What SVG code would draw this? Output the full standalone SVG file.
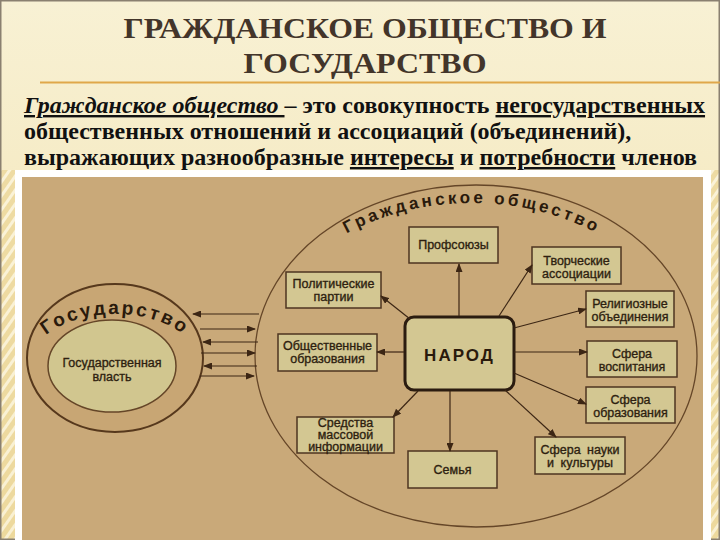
<svg xmlns="http://www.w3.org/2000/svg" width="720" height="540" viewBox="0 0 720 540">
  <defs>
    <linearGradient id="bg" x1="0" y1="0" x2="0" y2="1">
      <stop offset="0" stop-color="#f8f1d4"/>
      <stop offset="1" stop-color="#f1e0aa"/>
    </linearGradient>
    <pattern id="stripes" width="8" height="8" patternUnits="userSpaceOnUse" patternTransform="rotate(35)">
      <rect width="8" height="8" fill="#ecd79a"/>
      <rect width="3" height="8" fill="#fbf4dc"/>
    </pattern>
    <marker id="ah" markerUnits="userSpaceOnUse" markerWidth="9" markerHeight="7" refX="8" refY="3.5" orient="auto">
      <path d="M0,0 L9,3.5 L0,7 z" fill="#3c2614"/>
    </marker>
    <path id="gosArc" d="M 30,365 A 85,51 0 0 1 200,365"/>
    <path id="gragArc" d="M 262,358 A 210,155 0 0 1 682,358"/>
  </defs>
  <style>
    .title { font-family: "Liberation Serif", "Times New Roman", serif; font-weight: bold; font-size: 30px; fill: #43352a; }
    .body { font-family: "Liberation Serif", "Times New Roman", serif; font-weight: bold; font-size: 24px; fill: #111; }
    .u { text-decoration: underline; }
    .box { fill: #d3c792; stroke: #4e3520; stroke-width: 1.5; }
    .lbl { font-family: "Liberation Sans", Arial, sans-serif; font-size: 12.5px; fill: #2e1f10; stroke: #2e1f10; stroke-width: 0.35; text-anchor: middle; }
    .con { stroke: #3c2614; stroke-width: 1.2; fill: none; marker-end: url(#ah); }
    .arc { font-family: "Liberation Sans", Arial, sans-serif; font-weight: bold; fill: #2a1a0c; }
  </style>

  <!-- slide background -->
  <rect x="0" y="0" width="720" height="540" fill="url(#bg)"/>
  <rect x="0" y="170" width="16" height="370" fill="url(#stripes)" opacity="0.8"/>
  <rect x="709" y="170" width="11" height="370" fill="url(#stripes)" opacity="0.8"/>
  <rect x="0.75" y="0.75" width="718.5" height="538.5" fill="none" stroke="#8a8070" stroke-width="1.5"/>

  <!-- heading -->
  <text class="title" x="365" y="38" text-anchor="middle" textLength="483" lengthAdjust="spacingAndGlyphs">ГРАЖДАНСКОЕ ОБЩЕСТВО И</text>
  <text class="title" x="365" y="73" text-anchor="middle" textLength="243" lengthAdjust="spacingAndGlyphs">ГОСУДАРСТВО</text>
  <line x1="40" y1="82.5" x2="720" y2="82.5" stroke="#e0a84a" stroke-width="2"/>

  <!-- definition -->
  <text class="body" x="24" y="113"><tspan class="u" font-style="italic">Гражданское общество </tspan>– это совокупность <tspan class="u">негосударственных</tspan></text>
  <text class="body" x="24" y="139">общественных отношений и ассоциаций (объединений),</text>
  <text class="body" x="24" y="165">выражающих разнообразные <tspan class="u">интересы</tspan> и <tspan class="u">потребности</tspan> членов</text>

  <!-- picture frame -->
  <rect x="15" y="170" width="696" height="372" fill="#ffffff"/>
  <rect x="22" y="177" width="681" height="365" fill="#c9a979"/>

  <!-- Гражданское общество ellipse -->
  <g id="civil-society">
    <ellipse cx="476" cy="356" rx="221" ry="171" fill="none" stroke="#654628" stroke-width="1.3"/>
    <text class="arc" font-size="17" letter-spacing="3.2"><textPath href="#gragArc" startOffset="50%" text-anchor="middle">Гражданское общество</textPath></text>
  </g>

  <!-- Государство -->
  <g id="state">
    <ellipse cx="115" cy="358" rx="88" ry="74" fill="#c8a674" stroke="#56381c" stroke-width="2"/>
    <text class="arc" font-size="19" letter-spacing="2.5"><textPath href="#gosArc" startOffset="50%" text-anchor="middle">Государство</textPath></text>
  </g>
  <g id="state-power">
    <ellipse cx="112" cy="366" rx="64" ry="46" fill="#d1c68f" stroke="#654628" stroke-width="1.5"/>
    <text class="lbl" x="112" y="367" font-size="13.5">Государственная</text>
    <text class="lbl" x="112" y="381" font-size="13.5">власть</text>
  </g>

  <!-- nodes -->
  <g id="narod">
    <rect x="405" y="317" width="109" height="73" rx="9" fill="#d3c792" stroke="#2b1c10" stroke-width="3"/>
    <text x="459.5" y="361" text-anchor="middle" font-family="Liberation Sans, Arial, sans-serif" font-weight="bold" font-size="17" letter-spacing="2" fill="#2a1a0c">НАРОД</text>
  </g>
  <g id="profsoyuzy">
    <rect class="box" x="409" y="227" width="89" height="36"/>
    <text class="lbl" x="453.5" y="249">Профсоюзы</text>
  </g>
  <g id="tvorcheskie">
    <rect class="box" x="532" y="247" width="89" height="37"/>
    <text class="lbl" x="576.5" y="265">Творческие</text>
    <text class="lbl" x="576.5" y="278">ассоциации</text>
  </g>
  <g id="religioznye">
    <rect class="box" x="586" y="291" width="88" height="36"/>
    <text class="lbl" x="630" y="308">Религиозные</text>
    <text class="lbl" x="630" y="321">объединения</text>
  </g>
  <g id="vospitanie">
    <rect class="box" x="587" y="341" width="90" height="36"/>
    <text class="lbl" x="632" y="358">Сфера</text>
    <text class="lbl" x="632" y="371">воспитания</text>
  </g>
  <g id="obrazovanie">
    <rect class="box" x="586" y="387" width="89" height="36"/>
    <text class="lbl" x="630.5" y="404">Сфера</text>
    <text class="lbl" x="630.5" y="417">образования</text>
  </g>
  <g id="nauka">
    <rect class="box" x="535" y="437" width="90" height="37"/>
    <text class="lbl" x="580" y="454" word-spacing="3">Сфера науки</text>
    <text class="lbl" x="580" y="467" word-spacing="3">и культуры</text>
  </g>
  <g id="semya">
    <rect class="box" x="408" y="451" width="89" height="37"/>
    <text class="lbl" x="452.5" y="474">Семья</text>
  </g>
  <g id="smi">
    <rect class="box" x="297" y="417" width="97" height="36"/>
    <text class="lbl" x="345.5" y="426.5" font-size="11.5">Средства</text>
    <text class="lbl" x="345.5" y="438.5" font-size="11.5">массовой</text>
    <text class="lbl" x="345.5" y="450.5" font-size="11.5">информации</text>
  </g>
  <g id="obshchestvennye">
    <rect class="box" x="278" y="334" width="99" height="37"/>
    <text class="lbl" x="327.5" y="350">Общественные</text>
    <text class="lbl" x="327.5" y="363">образования</text>
  </g>
  <g id="politicheskie">
    <rect class="box" x="286" y="272" width="95" height="36"/>
    <text class="lbl" x="333.5" y="288">Политические</text>
    <text class="lbl" x="333.5" y="301">партии</text>
  </g>

  <!-- connectors -->
  <g id="connectors">
    <line class="con" x1="459" y1="316" x2="459" y2="264"/>
    <line class="con" x1="499" y1="316" x2="532" y2="265"/>
    <line class="con" x1="514" y1="328" x2="586" y2="309"/>
    <line class="con" x1="514" y1="352" x2="587" y2="352"/>
    <line class="con" x1="514" y1="373" x2="586" y2="404"/>
    <line class="con" x1="505" y1="390" x2="556" y2="437"/>
    <line class="con" x1="450" y1="391" x2="450" y2="451"/>
    <line class="con" x1="418" y1="391" x2="393" y2="417"/>
    <line class="con" x1="404" y1="352" x2="377" y2="352"/>
    <line class="con" x1="410" y1="319" x2="381" y2="296"/>
    <line class="con" x1="259" y1="314" x2="193" y2="314"/>
    <line class="con" x1="200" y1="329" x2="255" y2="329"/>
    <line class="con" x1="258" y1="342" x2="203" y2="342"/>
    <line class="con" x1="201" y1="353" x2="255" y2="353"/>
    <line class="con" x1="257" y1="366" x2="204" y2="366"/>
    <line class="con" x1="200" y1="376" x2="254" y2="376"/>
  </g>
</svg>
